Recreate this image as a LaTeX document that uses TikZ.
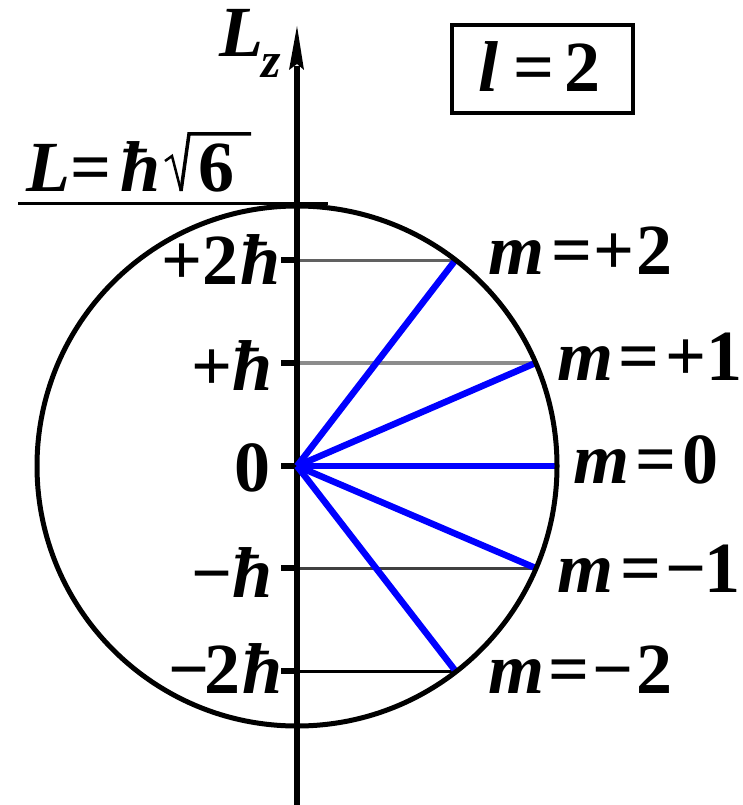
\documentclass[tikz,border=0pt]{standalone}
\usepackage{fontspec}
\newcommand\BU{\fontspec{Liberation Serif Bold}}
\newcommand\BI{\fontspec{Liberation Serif Bold Italic}}
\begin{document}
\begin{tikzpicture}[x=1pt,y=-1pt,
  lab/.style={inner sep=0pt, font=\fontsize{72}{80}\selectfont},
  sublab/.style={inner sep=0pt, font=\fontsize{50}{56}\selectfont},
  ticksty/.style={line width=6pt},
  levsty/.style={line width=3pt},
  vecsty/.style={line width=6.5pt, blue, line cap=butt},
  circsty/.style={line width=5pt},
  axsty/.style={line width=5.5pt}]
\useasboundingbox (0,0) rectangle (742,805);
% coordinates
\coordinate (O) at (297,466);
\coordinate (axtop) at (297,66);
\coordinate (axbot) at (297,805);
\coordinate (a2) at (297,260);
\coordinate (a1) at (297,363);
\coordinate (am1) at (297,568);
\coordinate (am2) at (297,671);
\coordinate (t2) at (281,260);
\coordinate (t1) at (281,363);
\coordinate (t0) at (281,466);
\coordinate (tm1) at (281,568);
\coordinate (tm2) at (281,671);
\coordinate (p2) at (455.5,260);
\coordinate (p1) at (535.5,363);
\coordinate (p0) at (557,466);
\coordinate (pm1) at (535.5,568);
\coordinate (pm2) at (455.5,671);
\coordinate (ul1) at (18,203);
\coordinate (ul2) at (328,203);
% level lines
\draw[levsty, black!62] (a2) -- (p2);
\draw[levsty, black!45, line width=4pt] (a1) -- (p1);
\draw[levsty, black!75] (am1) -- (pm1);
\draw[levsty, black] (am2) -- (pm2);
% ticks
\foreach \t/\a in {t2/a2,t1/a1,t0/O,tm1/am1,tm2/am2} \draw[ticksty] (\t) -- (\a);
% axis
\draw[axsty] (axbot) -- (axtop);
\fill (297,26) -- (304,70) -- (297,64) -- (289,70) -- cycle;
% vectors
\foreach \p in {p2,p1,p0,pm1,pm2} \draw[vecsty] (O) -- (\p);
% circle
\draw[circsty] (O) circle[radius=260];
% underline
\draw[line width=3pt] (ul1) -- (ul2);
% L_z
\node[lab,anchor=base west] (Lz) at (219,57) {\BI L};
\node[sublab,anchor=base west] (z) at (261,78) {\BI z};
% box
\node[draw, line width=4pt, minimum width=181pt, minimum height=88pt, inner sep=0pt] (box) at (542.5,69) {};
\node[lab,anchor=base west] (lval) at (478,92) {{\BI l}\kern15pt{\BU =\kern10pt2}};
% L = hbar sqrt6
\node[lab,anchor=base west] (Lval) at (26,192) {{\BI L}{\BU =}\kern9pt{\BI ħ}};
\draw[line width=2.5pt] (165,161) -- (172,156) -- (181,191);
\draw[line width=3.5pt] (181,191) -- (189,134) -- (251,134);
\node[lab,anchor=base west] (six) at (198,192) {\BU 6};
% left labels
\node[lab,anchor=base west] (l2) at (161,284) {{\BU +2}\kern2pt{\BI ħ}};
\node[lab,anchor=base west] (l1) at (191,390) {{\BU +}{\BI ħ}};
\node[lab,anchor=base west] (l0) at (234,491) {\BU 0};
\node[lab,anchor=base west] (lm1) at (191,597) {{\BU −}{\BI ħ}};
\node[lab,anchor=base west] (lm2) at (168,693) {{\BU −\kern-5pt2}\kern2pt{\BI ħ}};
% right labels
\node[lab,anchor=base west] (m2) at (488,274) {{\BI m}\kern7pt{\BU =\kern1pt+\kern2pt2}};
\node[lab,anchor=base west] (m1) at (557,380) {{\BI m}\kern5pt{\BU =\kern6pt+1}};
\node[lab,anchor=base west] (m0) at (573,483) {{\BI m}\kern6pt{\BU =\kern6pt0}};
\node[lab,anchor=base west] (mm1) at (557,592) {{\BI m}\kern7pt{\BU =\kern4pt−\kern-2pt1}};
\node[lab,anchor=base west] (mm2) at (488,693) {{\BI m}\kern4pt{\BU =\kern3pt−\kern3pt2}};
\end{tikzpicture}
\end{document}
